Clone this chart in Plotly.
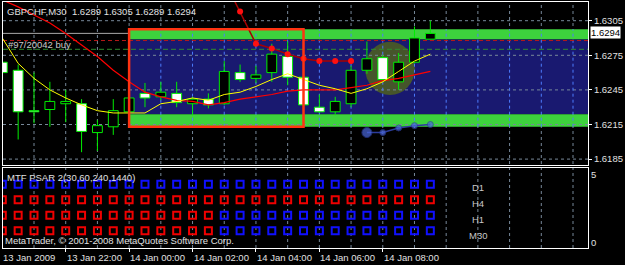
import plotly.graph_objects as go

# ---------------- data ----------------
bar_times = ["13 Jan 20:00", "13 Jan 20:30", "13 Jan 21:00", "13 Jan 21:30",
             "13 Jan 22:00", "13 Jan 22:30", "13 Jan 23:00", "13 Jan 23:30",
             "14 Jan 00:00", "14 Jan 00:30", "14 Jan 01:00", "14 Jan 01:30",
             "14 Jan 02:00", "14 Jan 02:30", "14 Jan 03:00", "14 Jan 03:30",
             "14 Jan 04:00", "14 Jan 04:30", "14 Jan 05:00", "14 Jan 05:30",
             "14 Jan 06:00", "14 Jan 06:30", "14 Jan 07:00", "14 Jan 07:30",
             "14 Jan 08:00", "14 Jan 08:30", "14 Jan 09:00", "14 Jan 09:30"]

opens = [1.6269, 1.6262, 1.6227, 1.6228, 1.6233, 1.6233, 1.6208, 1.6213,
         1.6226, 1.6242, 1.6239, 1.6242, 1.6233, 1.6237, 1.6233, 1.6260,
         1.6255, 1.6260, 1.6274, 1.6256, 1.6230, 1.6226, 1.6233, 1.6262,
         1.6273, 1.6252, 1.6269, 1.6289]
highs = [1.6273, 1.6267, 1.6260, 1.6252, 1.6245, 1.6237, 1.6219, 1.6237,
         1.6240, 1.6251, 1.6252, 1.6252, 1.6239, 1.6242, 1.6270, 1.6267,
         1.6266, 1.6285, 1.6287, 1.6261, 1.6241, 1.6239, 1.6266, 1.6287,
         1.6275, 1.6277, 1.6300, 1.6305]
lows = [1.6258, 1.6202, 1.6216, 1.6213, 1.6217, 1.6191, 1.6192, 1.6206,
        1.6224, 1.6230, 1.6236, 1.6230, 1.6223, 1.6229, 1.6232, 1.6252,
        1.6251, 1.6252, 1.6249, 1.6229, 1.6225, 1.6223, 1.6230, 1.6259,
        1.6252, 1.6245, 1.6268, 1.6289]
closes = [1.6260, 1.6226, 1.6226, 1.6235, 1.6235, 1.6209, 1.6214, 1.6227,
          1.6238, 1.6238, 1.6243, 1.6234, 1.6237, 1.6232, 1.6261, 1.6254,
          1.6258, 1.6276, 1.6256, 1.6232, 1.6226, 1.6235, 1.6262, 1.6272,
          1.6254, 1.6269, 1.6290, 1.6294]

ma_fast = [1.6290, 1.6268, 1.6255, 1.6245, 1.6238, 1.6232, 1.6227, 1.6225,
           1.6225, 1.6225, 1.6233, 1.6235, 1.6238, 1.6236, 1.6241, 1.6243,
           1.6248, 1.6254, 1.6259, 1.6254, 1.6249, 1.6246, 1.6242, 1.6246,
           1.6252, 1.6261, 1.6270, 1.6276]
ma_slow = [1.6323, 1.6317, 1.6310, 1.6303, 1.6294, 1.6284, 1.6274, 1.6262,
           1.6252, 1.6243, 1.6239, 1.6236, 1.6235, 1.6232, 1.6234, 1.6237,
           1.6239, 1.6241, 1.6244, 1.6245, 1.6245, 1.6245, 1.6247, 1.6249,
           1.6253, 1.6255, 1.6258, 1.6261]

sar_red = [None, None, None, None, None, None, None, None, None, None, None,
           None, None, None, 1.6340, 1.6313, 1.6285, 1.6281, 1.6276, 1.6272,
           1.6270, 1.6270, 1.6270, None, None, None, None, None]
sar_blue = [None, None, None, None, None, None, None, None, None, None, None,
            None, None, None, None, None, None, None, None, None, None, None,
            None, 1.6208, 1.6208, 1.6212, 1.6214, 1.6215]

psar_d1 = "BBBBBBBBBBBBBBBBBBBBBBBBBBBB"
psar_h4 = "RRRRRRRRRRRRRRRRRRRRRRRRRRRR"
psar_h1 = "RRRRRRRRRRRRRRBBBBBBBBBBBBBB"
psar_m30 = "RRRRRRRRRRRRRRBBBBBBBBBBBBBB"
psar_labels = ["D1", "H4", "H1", "M30"]

price_ticks = [1.6305, 1.6275, 1.6245, 1.6215, 1.6185]
time_labels = ["13 Jan 2009", "13 Jan 22:00", "14 Jan 00:00", "14 Jan 02:00",
               "14 Jan 04:00", "14 Jan 06:00", "14 Jan 08:00"]
time_label_bars = ["13 Jan 20:00", "13 Jan 22:00", "14 Jan 00:00", "14 Jan 02:00",
                   "14 Jan 04:00", "14 Jan 06:00", "14 Jan 08:00"]

zone_upper = [1.62887, 1.62975]
zone_mid = [1.62238, 1.62887]
zone_lower = [1.62131, 1.62238]
box_start, box_end = "14 Jan 00:00", "14 Jan 05:30"
bid_price = 1.6294
tp_price = 1.62878
order_price = 1.62802
header = "GBPCHF,M30\u00a0\u00a01.6289 1.6305 1.6289 1.6294"

# ---------------- figure ----------------
W, H = 625, 265
ML, MR, MT, MB = 3, 37, 2, 17
PW, PH = W - ML - MR, H - MT - MB
x_range = [0.044, 36.946]
y_range = [1.6179881, 1.6321214]
y2_range = [-0.116, 5.077]
FONT = "Liberation Sans"
LIME = "#00ee00"
GRID = "#778899"


def pxx(X):
    return (X - ML) / PW


def pxy(Y):
    return (H - MB - Y) / PH


def bar_to_paper(j):
    return (j - x_range[0]) / (x_range[1] - x_range[0])


x = list(range(len(bar_times)))
body_base = [min(o, c) for o, c in zip(opens, closes)]
body_top = [max(o, c) for o, c in zip(opens, closes)]
body_h = [t - b for t, b in zip(body_top, body_base)]
body_col = ["#000000" if c > o else "#ffffff" for o, c in zip(opens, closes)]

wx, wy = [], []
for i in x:
    wx += [i, i, None, i, i, None]
    wy += [highs[i], body_top[i], None, body_base[i], lows[i], None]

fig = go.Figure()
fig.add_trace(go.Bar(x=x, y=body_h, base=body_base, width=0.62,
                     marker=dict(color=body_col, line=dict(color=LIME, width=1)),
                     xaxis="x", yaxis="y", hoverinfo="skip"))
fig.add_trace(go.Scatter(x=wx, y=wy, mode="lines", line=dict(color=LIME, width=1),
                         xaxis="x", yaxis="y", hoverinfo="skip"))
fig.add_trace(go.Scatter(x=x, y=ma_slow, mode="lines", line=dict(color="#ff0000", width=1.2),
                         xaxis="x", yaxis="y"))
fig.add_trace(go.Scatter(x=x, y=ma_fast, mode="lines", line=dict(color="#ffff00", width=1),
                         xaxis="x", yaxis="y"))
fig.add_trace(go.Scatter(x=x, y=sar_red, mode="lines+markers", connectgaps=False,
                         line=dict(color="#a80000", width=1.5),
                         marker=dict(color="#ff1010", size=6),
                         xaxis="x", yaxis="y"))
fig.add_trace(go.Scatter(x=x, y=sar_blue, mode="lines+markers",
                         line=dict(color="#2c3c9c", width=1.5),
                         marker=dict(color="#4a68dc",
                                     size=[10 if (v is not None and i == 23) else 6 for i, v in enumerate(sar_blue)]),
                         xaxis="x", yaxis="y"))

for row, states in zip([4, 3, 2, 1], [psar_d1, psar_h4, psar_h1, psar_m30]):
    cols = ["#1010ff" if s == "B" else "#f00000" for s in states]
    fig.add_trace(go.Scatter(x=x, y=[row] * len(x), mode="markers",
                             marker=dict(symbol="square-open", size=7, color=cols,
                                         line=dict(width=2, color=cols)),
                             xaxis="x2", yaxis="y2"))

# ---------------- shapes ----------------
b0, b1 = bar_times.index(box_start), bar_times.index(box_end)
shapes = []
shapes.append(dict(type="line", xref="x", yref="y", x0=x_range[0], x1=x_range[1],
                   y0=bid_price, y1=bid_price, line=dict(color="#a8a8a8", width=1), layer="below"))
for (lo, hi), col in [(zone_upper, "#3dd23d"), (zone_mid, "#191970"), (zone_lower, "#3dd23d")]:
    shapes.append(dict(type="rect", xref="x", yref="y", x0=b0, x1=x_range[1], y0=lo, y1=hi,
                       fillcolor=col, line=dict(width=0), layer="below"))
shapes.append(dict(type="circle", xref="x", yref="y", x0=22.88, x1=26.03, y0=1.62406, y1=1.62868,
                   fillcolor="#46552b", line=dict(width=0), layer="below"))
for p in price_ticks:
    shapes.append(dict(type="line", xref="x", yref="y", x0=x_range[0], x1=x_range[1], y0=p, y1=p,
                       line=dict(color=GRID, width=1, dash="3px,3px"), layer="below"))
for g in range(2, 37, 2):
    shapes.append(dict(type="line", xref="x", yref="paper", x0=g, x1=g, y0=0, y1=1,
                       line=dict(color=GRID, width=1, dash="3px,3px"), layer="below"))
    if g >= b0:
        shapes.append(dict(type="line", xref="x", yref="y", x0=g, x1=g,
                           y0=zone_lower[0], y1=zone_upper[1],
                           line=dict(color="#4d7cff", width=1, dash="3px,3px"), layer="below"))
shapes.append(dict(type="line", xref="x", yref="y", x0=x_range[0], x1=x_range[1],
                   y0=tp_price, y1=tp_price, line=dict(color="#b81818", width=1, dash="4px,3px"),
                   layer="below"))
shapes.append(dict(type="line", xref="x", yref="y", x0=x_range[0], x1=x_range[1],
                   y0=order_price, y1=order_price, line=dict(color="#2e8b2e", width=1, dash="5px,3px"),
                   layer="below"))
shapes.append(dict(type="rect", xref="x", yref="y", x0=b0, x1=b1, y0=zone_lower[0], y1=zone_upper[1],
                   line=dict(color="#ff3311", width=2.5), fillcolor="rgba(0,0,0,0)", layer="above"))

# ---------------- annotations ----------------
TXT = "#e0e0e0"
ann = []


def text(t, X, Y, size=9.5, color=TXT, anchor="left", **kw):
    ann.append(dict(text=t, xref="paper", yref="paper", x=pxx(X), y=pxy(Y),
                    xanchor=anchor, yanchor="middle", showarrow=False,
                    font=dict(family=FONT, size=size, color=color), **kw))


text(header, 5, 11)
text("#97/20042 buy", 6, 44, color="#c8c8c8")
text("MTF PSAR 2(30,60,240,1440)", 5, 177)
text("MetaTrader, \u00a9 2001-2008 MetaQuotes Software Corp.", 3, 240)
for lab, Y in zip(psar_labels, [187, 203, 219, 235]):
    text(lab, 478, Y, anchor="center", color="#c8c8c8")
text("5", 589, 174)
text("0", 589, 242)
text(f"{bid_price:.4f}", 590, 33, color="#000000", bgcolor="#ffffff", borderpad=0)
for lab, tb in zip(time_labels, time_label_bars):
    ann.append(dict(text=lab, xref="paper", yref="paper",
                    x=bar_to_paper(bar_times.index(tb)), y=pxy(257),
                    xanchor="left", yanchor="middle", showarrow=False, xshift=-1,
                    font=dict(family=FONT, size=9.5, color=TXT)))

axis_common = dict(showgrid=False, zeroline=False, showline=True, mirror=True,
                   linecolor="#ffffff", linewidth=1)
main_bottom = (H - MB - 165) / PH
sub_top = (H - MB - 167.5) / PH

fig.update_layout(
    width=W, height=H, margin=dict(l=ML, r=MR, t=MT, b=MB),
    paper_bgcolor="#000000", plot_bgcolor="#000000",
    showlegend=False, hovermode=False,
    xaxis=dict(domain=[0, 1], range=x_range, anchor="y", showticklabels=False, ticks="",
               **axis_common),
    yaxis=dict(domain=[main_bottom, 1], range=y_range, anchor="x", side="right",
               tickvals=price_ticks, ticktext=[f"{p:.4f}" for p in price_ticks],
               ticks="outside", ticklen=3, tickcolor="#ffffff",
               tickfont=dict(family=FONT, size=9.5, color=TXT), **axis_common),
    xaxis2=dict(domain=[0, 1], range=x_range, anchor="y2", showticklabels=False,
                tickvals=[bar_times.index(t) for t in time_label_bars],
                ticks="outside", ticklen=3, tickcolor="#ffffff", **axis_common),
    yaxis2=dict(domain=[0, sub_top], range=y2_range, anchor="x2", showticklabels=False,
                ticks="", **axis_common),
    shapes=shapes, annotations=ann,
)

fig.write_html("out.html")
